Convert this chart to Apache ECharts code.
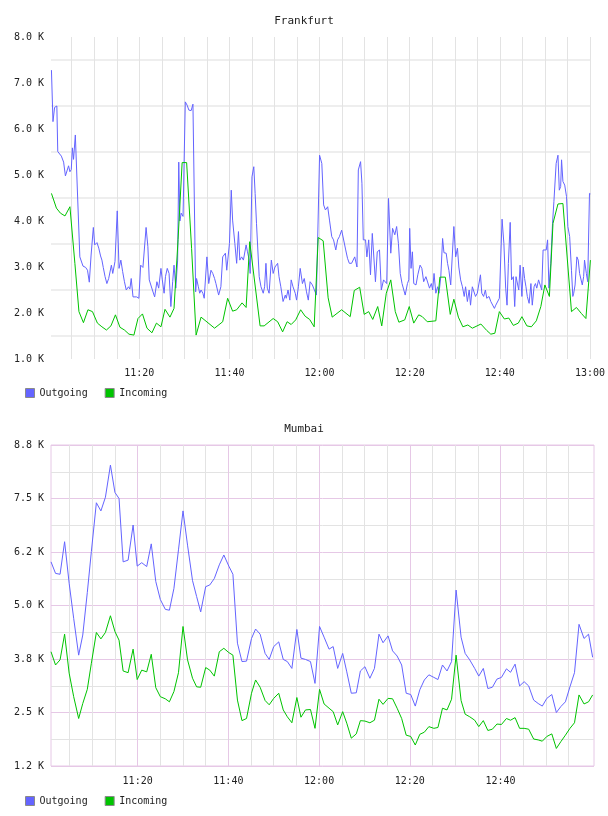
<!DOCTYPE html>
<html><head><meta charset="utf-8">
<script src="https://cdn.jsdelivr.net/npm/echarts@6/dist/echarts.min.js"></script>
<style>html,body{margin:0;padding:0;background:#fff}#c{width:608px;height:816px}</style>
</head><body><div id="c"></div>
<script>
// ---- tick labels ----
const xTickValues = [20, 40, 60, 80, 100, 120];           // minutes after 11:00
const xTickLabels = ['11:20', '11:40', '12:00', '12:20', '12:40', '13:00'];
const frankfurtGridMinutes = [5,10,15,20,25,30,35,40,45,50,55,60,65,70,75,80,85,90,95,100,105,110,115,120];
const mumbaiMajorMinutes = [20, 40, 60, 80, 100];
const mumbaiMinorMinutes = [5,10,15,25,30,35,45,50,55,65,70,75,85,90,95,105,110,115];
const frankfurtYTicks = ['1.0 K','2.0 K','3.0 K','4.0 K','5.0 K','6.0 K','7.0 K','8.0 K'];
const mumbaiYTicks = ['1.2 K','2.5 K','3.8 K','5.0 K','6.2 K','7.5 K','8.8 K'];
const legendNames = ['Outgoing', 'Incoming'];

// ---- Frankfurt data: [minutes after 11:00, value in K] ----
const frankfurtOutgoing = [[0.5,7.28],[0.84,6.16],[1.2,6.47],[1.7,6.5],[1.9,5.51],[2.3,5.5],[2.7,5.41],[3.2,5.28],[3.6,4.98],[4.0,4.98],[4.3,5.2],[4.6,5.07],[4.9,5.12],[5.15,5.59],[5.4,5.34],[5.8,5.87],[6.8,3.22],[7.1,3.19],[7.5,3.02],[8.1,2.99],[8.5,2.93],[8.9,2.67],[9.3,3.26],[9.8,3.86],[10.1,3.48],[10.6,3.53],[11.0,3.41],[11.4,3.24],[11.7,3.15],[12.0,2.99],[12.4,2.79],[12.8,2.64],[13.2,2.75],[13.8,3.04],[14.1,2.86],[14.6,3.12],[15.1,4.22],[15.5,2.97],[15.9,3.15],[16.3,2.9],[16.7,2.68],[17.1,2.5],[17.6,2.57],[17.9,2.52],[18.2,2.75],[18.6,2.35],[19.0,2.38],[19.4,2.35],[19.9,2.32],[20.3,3.04],[20.8,2.99],[21.5,3.86],[21.9,3.44],[22.2,2.72],[22.5,2.72],[22.9,2.5],[23.4,2.35],[23.9,2.68],[24.3,2.54],[24.8,2.97],[25.1,2.72],[25.5,2.43],[25.8,2.79],[26.2,2.97],[26.6,2.86],[27.0,2.14],[27.4,2.68],[27.7,3.04],[28.1,2.54],[28.5,3.15],[28.75,5.28],[29.0,4.0],[29.3,4.17],[29.7,4.1],[30.2,6.59],[30.6,6.52],[31.0,6.41],[31.5,6.4],[31.9,6.54],[32.5,2.46],[32.7,2.75],[33.1,2.57],
[33.4,2.43],[33.7,2.5],[34.1,2.43],[34.4,2.32],[35.0,3.22],[35.4,2.64],[35.9,2.93],[36.3,2.86],[36.7,2.75],[37.0,2.64],[37.6,2.39],[38.1,2.57],[38.5,3.22],[39.1,3.3],[39.4,2.93],[40.0,3.51],[40.4,4.67],[40.7,4.02],[41.2,3.51],[41.6,3.08],[42.0,3.77],[42.3,3.15],[42.7,3.22],[43.1,3.15],[43.7,3.48],[44.0,3.33],[44.4,3.15],[44.6,2.86],[45.0,4.96],[45.4,5.18],[45.7,4.6],[46.0,3.95],[46.3,3.96],[46.6,2.79],[47.0,2.57],[47.5,2.43],[47.8,2.57],[48.1,3.08],[48.4,2.54],[48.8,2.43],[49.3,3.15],[49.7,2.86],[50.1,3.0],[50.7,3.08],[51.0,2.79],[51.4,2.57],[51.9,2.25],[52.4,2.39],[52.6,2.32],[53.0,2.5],[53.4,2.28],[53.7,2.72],[54.1,2.57],[54.6,2.43],[54.9,2.28],[55.3,2.57],[55.7,2.97],[56.2,2.64],[56.6,2.75],[57.1,2.46],[57.5,2.28],[57.9,2.68],[58.4,2.61],[58.8,2.64],[59.3,2.39],[59.6,2.36],[60.0,5.43],[60.5,5.25],[60.9,4.35],[61.3,4.24],[61.8,4.31],[62.2,4.02],[62.7,3.66],[63.1,3.59],[63.6,3.37],[64.0,3.59],[64.4,3.66],[64.9,3.8],[65.3,3.8],[65.8,3.37],[66.2,3.19],[66.6,3.08],[67.1,3.08],[67.5,3.04],[67.8,3.22],[68.3,3.0],[68.6,5.11],[69.1,5.29],[69.4,4.82],[69.7,3.59],[70.2,3.59],[70.5,3.22],[70.9,3.59],[71.3,2.83],[71.7,3.73],[72.1,3.73],[72.4,2.68],[72.8,3.33],[73.3,3.37],[73.7,2.5],[74.2,2.72],[74.6,2.75],[74.9,2.64],[75.3,4.49],[75.8,3.3],[76.2,3.84],[76.7,3.7],[77.1,3.88],
[77.5,3.51],[77.9,2.86],[78.3,2.64],[78.6,2.61],[79.0,2.39],[79.5,2.64],[79.8,2.72],[80.0,3.84],[80.3,2.97],[80.6,3.33],[80.9,2.64],[81.4,2.61],[81.8,2.83],[82.3,3.04],[82.7,2.97],[83.1,2.68],[83.6,2.79],[84.0,2.75],[84.4,2.54],[84.8,2.64],[85.1,2.5],[85.4,2.86],[85.8,2.43],[86.2,2.57],[86.5,2.43],[86.9,2.79],[87.3,3.62],[87.6,3.31],[88.1,3.3],[88.4,3.08],[88.7,2.93],[89.1,2.61],[89.5,2.57],[89.8,3.88],[90.2,3.22],[90.6,3.41],[90.9,3.0],[91.3,2.72],[91.7,2.57],[92.1,2.36],[92.4,2.57],[92.8,2.25],[93.2,2.5],[93.5,2.17],[93.9,2.57],[94.3,2.61],[94.6,2.36],[95.0,2.43],[95.4,2.46],[95.7,2.83],[96.0,2.43],[96.4,2.36],[96.8,2.5],[97.1,2.32],[97.6,2.36],[98.0,2.25],[98.4,2.28],[98.8,2.1],[99.1,2.17],[99.5,2.14],[99.9,2.32],[100.2,2.36],[100.5,4.04],[100.9,3.51],[101.3,2.54],[101.6,2.17],[101.9,3.08],[102.3,3.97],[102.6,2.72],[103.0,2.79],[103.3,2.14],[103.6,2.79],[103.9,2.75],[104.2,2.5],[104.5,3.04],[104.9,2.36],[105.2,3.0],[105.5,2.75],[105.8,2.57],[106.1,2.36],[106.5,2.21],[106.9,2.64],[107.2,2.17],[107.6,2.57],[107.9,2.64],[108.2,2.54],[108.6,2.72],[108.9,2.75],[109.3,2.5],[109.6,3.37],[110.0,3.41],[110.3,3.37],[110.6,3.59],[110.9,2.54],[111.3,3.08],[111.7,3.95],[112.0,4.42],[112.3,4.46],[112.5,5.25],[112.9,5.43],[113.2,4.67],[113.5,4.75],[113.7,5.33],[114.0,4.86],[114.4,4.78],[114.8,4.53],[115.1,3.88],[115.5,3.66],[115.9,2.93],[116.2,2.36],[116.4,2.43],[116.7,2.61],[117.1,3.22],[117.4,3.15],[117.7,2.86],[118.1,2.86],[118.3,2.61],[118.6,2.79],[118.8,3.15],[119.2,2.86],[119.5,2.68],[119.9,4.6],[120.1,4.59]];

const frankfurtIncoming = [[0.5,4.6],[1.6,4.28],[2.5,4.17],[3.5,4.11],[4.6,4.31],[5.7,3.08],[6.6,2.03],[7.6,1.79],[8.6,2.07],[9.6,2.03],[10.7,1.78],[11.7,1.7],[12.7,1.63],[13.7,1.72],[14.7,1.96],[15.7,1.69],[16.7,1.63],[17.7,1.54],[18.8,1.52],[19.7,1.88],[20.7,1.98],[21.7,1.67],[22.8,1.57],[23.8,1.78],[24.8,1.7],[25.7,2.08],[26.8,1.91],[27.7,2.1],[28.6,3.6],[29.5,5.27],[30.5,5.27],[31.6,3.4],[32.6,1.52],[33.7,1.91],[36.7,1.67],[38.5,1.81],[39.6,2.32],[40.7,2.04],[41.6,2.07],[42.8,2.22],[43.7,2.12],[44.5,3.55],[46.8,1.72],[47.7,1.72],[49.7,1.88],[50.7,1.81],[51.8,1.59],[52.8,1.81],[53.7,1.75],[54.7,1.85],[55.8,2.07],[56.8,1.93],[57.8,1.86],[58.8,1.7],[59.7,3.64],[60.8,3.57],[61.9,2.33],[62.8,1.91],[64.9,2.07],[66.8,1.92],[67.7,2.49],[68.9,2.56],[69.9,1.97],[70.9,2.03],[71.8,1.86],[72.9,2.14],[73.8,1.72],[74.8,2.43],[75.8,2.72],[76.8,2.03],[77.6,1.8],[78.9,1.85],[79.9,2.14],[80.9,1.78],[82.0,1.96],[82.8,1.92],[83.9,1.81],[85.8,1.83],[86.7,2.78],[87.9,2.78],[89.0,1.97],[89.8,2.3],[90.8,1.91],[91.8,1.7],[92.9,1.74],[93.9,1.67],[95.8,1.76],[97.1,1.62],[98.0,1.54],[98.9,1.56],[99.9,2.03],[101.0,1.87],[102.0,1.89],[103.0,1.73],[104.1,1.78],[104.9,1.92],[106.0,1.72],[107.0,1.7],[108.1,1.83],[109.1,2.14],[110.0,2.61],[111.0,2.36],[111.8,3.95],[112.9,4.37],[114.0,4.38],[115.9,2.03],[117.0,2.12],[118.1,1.99],[119.1,1.88],[120.1,3.15]];

// ---- Mumbai data ----
const mumbaiMinutes = [0.9,1.9,2.9,3.9,4.9,5.9,7.0,7.9,8.9,9.8,10.9,11.9,12.9,14.0,15.0,15.9,16.8,17.9,19.0,19.9,20.9,22.0,23.0,24.0,25.0,26.1,27.0,28.0,29.0,30.0,31.0,32.1,33.0,33.9,35.0,35.9,36.9,38.0,39.0,40.1,41.0,42.0,43.0,44.0,45.1,46.0,47.0,48.1,49.0,50.0,51.1,52.1,53.0,54.0,55.1,56.0,57.0,58.1,59.1,60.1,61.1,62.2,63.1,64.1,65.2,66.1,67.1,68.2,69.1,70.1,71.2,72.2,73.2,74.1,75.2,76.2,77.2,78.2,79.2,80.2,81.2,82.2,83.2,84.2,85.3,86.2,87.2,88.2,89.2,90.2,91.3,92.2,93.2,94.3,95.2,96.2,97.2,98.2,99.2,100.2,101.3,102.2,103.2,104.2,105.2,106.2,107.3,108.3,109.2,110.2,111.3,112.3,113.3,114.3,115.3,116.3,117.3,118.4,119.4,120.3];
const mumbaiOutgoing = [6.02,5.75,5.73,6.49,5.52,4.7,3.84,4.31,5.3,6.26,7.4,7.21,7.53,8.28,7.64,7.5,6.02,6.06,6.88,5.92,6.0,5.91,6.44,5.56,5.14,4.91,4.89,5.4,6.3,7.21,6.41,5.58,5.21,4.85,5.44,5.48,5.63,5.95,6.18,5.92,5.73,4.12,3.69,3.7,4.23,4.45,4.33,3.88,3.74,4.04,4.15,3.74,3.69,3.53,4.44,3.77,3.74,3.69,3.18,4.51,4.26,3.98,4.04,3.53,3.88,3.45,2.95,2.96,3.47,3.57,3.3,3.53,4.33,4.13,4.29,3.94,3.82,3.61,2.95,2.92,2.65,3.03,3.26,3.38,3.32,3.27,3.61,3.47,3.69,5.36,4.26,3.88,3.73,3.53,3.35,3.53,3.06,3.09,3.28,3.32,3.52,3.44,3.63,3.12,3.22,3.12,2.79,2.71,2.65,2.83,2.92,2.5,2.64,2.75,3.1,3.43,4.56,4.23,4.33,3.79];
const mumbaiIncoming = [3.92,3.61,3.73,4.33,3.42,2.87,2.36,2.71,3.04,3.65,4.37,4.22,4.37,4.76,4.39,4.19,3.47,3.43,3.98,3.27,3.49,3.45,3.86,3.08,2.87,2.82,2.75,2.99,3.43,4.51,3.73,3.3,3.1,3.09,3.55,3.49,3.35,3.92,4.0,3.9,3.84,2.79,2.31,2.36,2.95,3.26,3.09,2.78,2.68,2.83,2.95,2.56,2.4,2.26,2.85,2.39,2.56,2.57,2.13,3.04,2.7,2.6,2.52,2.21,2.52,2.25,1.9,2.0,2.31,2.3,2.26,2.32,2.81,2.69,2.83,2.82,2.6,2.36,1.97,1.94,1.74,1.99,2.04,2.17,2.13,2.15,2.6,2.56,2.81,3.84,2.78,2.46,2.4,2.32,2.17,2.31,2.08,2.11,2.23,2.22,2.36,2.32,2.38,2.13,2.13,2.11,1.88,1.86,1.83,1.94,2.0,1.66,1.82,1.97,2.13,2.26,2.91,2.7,2.75,2.91];

// ---- styling ----
const FONT = 'DejaVu Sans Mono';
const BLUE = '#6464ff';
const GREEN = '#00c400';
const PINK = '#e6c8e6';
const GRAY = '#e3e3e3';
const TXT = '#222';

const xLabelFmt = v => { const i = xTickValues.indexOf(Math.round(v)); return i >= 0 ? xTickLabels[i] : ''; };
const baseLabel = { fontFamily: FONT, fontSize: 10, color: TXT };

function legendAt(top) {
  return {
    data: legendNames, left: 25, top: top, padding: 0, itemGap: 17,
    itemWidth: 9, itemHeight: 9, icon: 'rect', selectedMode: false,
    itemStyle: { borderColor: '#8a8a8a', borderWidth: 1 },
    textStyle: { fontFamily: FONT, fontSize: 10, color: TXT }
  };
}
function lineSeries(name, color, xi, yi, data) {
  return {
    name, type: 'line', xAxisIndex: xi, yAxisIndex: yi, data,
    showSymbol: false, symbol: 'none', clip: true,
    lineStyle: { width: 1, color }, itemStyle: { color }
  };
}

const option = {
  animation: false,
  backgroundColor: '#ffffff',
  title: [
    { text: 'Frankfurt', left: 'center', top: 11, textStyle: { fontFamily: FONT, fontSize: 11, fontWeight: 'normal', color: TXT } },
    { text: 'Mumbai', left: 'center', top: 419, textStyle: { fontFamily: FONT, fontSize: 11, fontWeight: 'normal', color: TXT } }
  ],
  legend: [legendAt(388), legendAt(796)],
  grid: [
    { left: 51, top: 37, width: 543, height: 322, show: false },
    { left: 51, top: 445, width: 543, height: 321, show: true, borderColor: PINK, borderWidth: 1, backgroundColor: 'transparent' }
  ],
  xAxis: [
    { gridIndex: 0, type: 'value', position: 'bottom', min: 0.4, max: 120.2,
      axisLine: { show: false }, axisTick: { show: false, customValues: frankfurtGridMinutes },
      axisLabel: Object.assign({ customValues: xTickValues, formatter: xLabelFmt, margin: 9 }, baseLabel),
      splitLine: { show: true, lineStyle: { color: GRAY, width: 1 } } },
    { gridIndex: 1, type: 'value', position: 'bottom', min: 0.9, max: 120.6,
      axisLine: { show: false }, axisTick: { show: false, customValues: mumbaiMinorMinutes },
      axisLabel: { show: false },
      splitLine: { show: true, lineStyle: { color: GRAY, width: 1 } } },
    { gridIndex: 1, type: 'value', position: 'bottom', offset: 0, min: 0.9, max: 120.6,
      axisLine: { show: false }, axisTick: { show: false, customValues: mumbaiMajorMinutes },
      axisLabel: Object.assign({ customValues: mumbaiMajorMinutes, formatter: xLabelFmt, margin: 10 }, baseLabel),
      splitLine: { show: true, lineStyle: { color: PINK, width: 1 } } }
  ],
  yAxis: [
    { gridIndex: 0, type: 'value', min: 1, max: 8, interval: 1,
      axisLine: { show: false }, axisTick: { show: false },
      axisLabel: Object.assign({ margin: 7, formatter: v => frankfurtYTicks[Math.round(v - 1)] }, baseLabel),
      splitLine: { show: false },
      minorTick: { show: false, splitNumber: 2 },
      minorSplitLine: { show: true, lineStyle: { color: '#eeeeee', width: 2 } } },
    { gridIndex: 1, type: 'value', min: 1.25, max: 8.75, interval: 1.25,
      axisLine: { show: false }, axisTick: { show: false },
      axisLabel: Object.assign({ margin: 7, formatter: v => mumbaiYTicks[Math.round((v - 1.25) / 1.25)] }, baseLabel),
      splitLine: { show: true, lineStyle: { color: PINK, width: 1 } },
      minorTick: { show: false, splitNumber: 2 },
      minorSplitLine: { show: true, lineStyle: { color: GRAY, width: 1 } } }
  ],
  series: [
    lineSeries('Outgoing', BLUE, 0, 0, frankfurtOutgoing),
    lineSeries('Incoming', GREEN, 0, 0, frankfurtIncoming),
    lineSeries('Outgoing', BLUE, 2, 1, mumbaiMinutes.map((t, i) => [t, mumbaiOutgoing[i]])),
    lineSeries('Incoming', GREEN, 2, 1, mumbaiMinutes.map((t, i) => [t, mumbaiIncoming[i]]))
  ]
};

const chart = echarts.init(document.getElementById('c'), null, { renderer: 'canvas' });
chart.setOption(option);
</script>
</body></html>
